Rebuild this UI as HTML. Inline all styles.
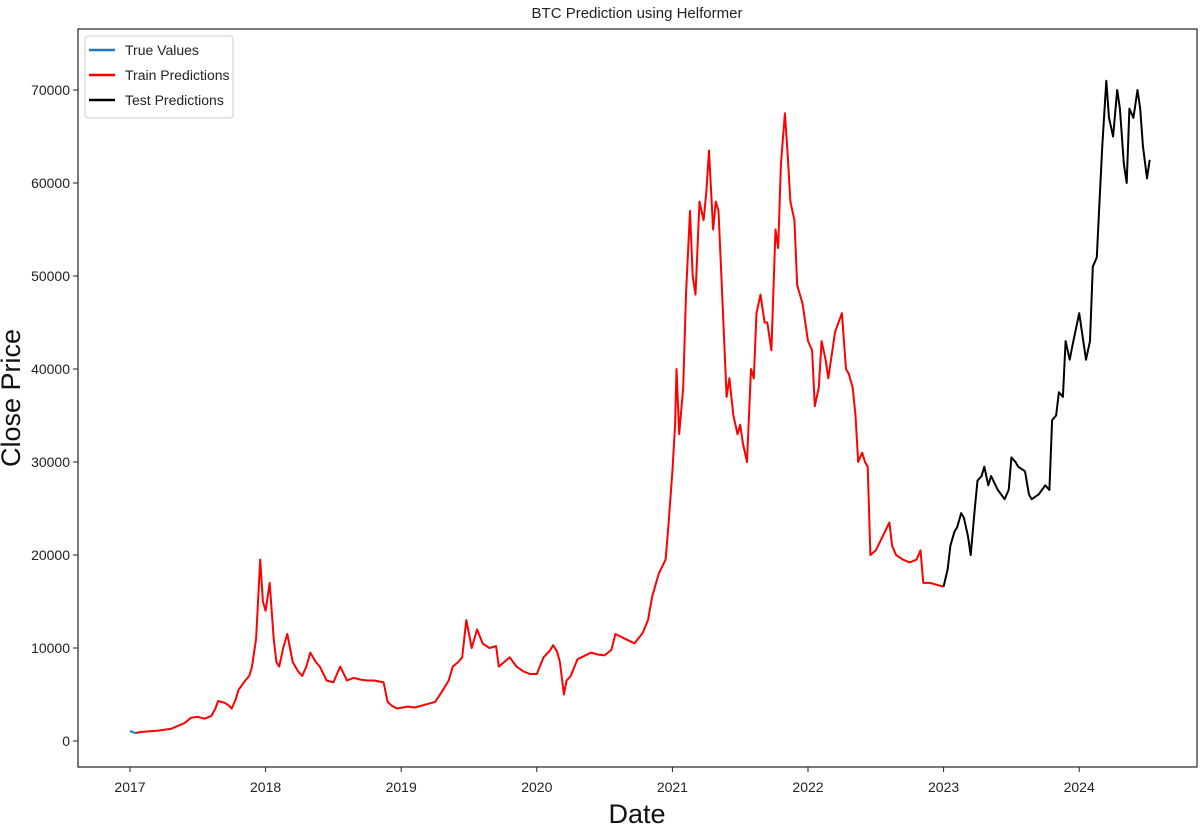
<!DOCTYPE html>
<html><head><meta charset="utf-8"><style>
body{margin:0;background:#fff;}
svg{display:block;font-family:"Liberation Sans","DejaVu Sans",sans-serif;}
</style></head><body>
<svg id="chart" width="1200" height="828"></svg>
<script>
const trueDates=[2017.0,2017.02,2017.04,2017.06];
const trueVals=[1100,950,850,900];
const trainDates=[2017.05,2017.1,2017.2,2017.3,2017.4,2017.45,2017.5,2017.55,2017.6,2017.63,2017.65,2017.7,2017.73,2017.75,2017.78,2017.8,2017.85,2017.88,2017.9,2017.93,2017.96,2017.98,2018.0,2018.03,2018.06,2018.08,2018.1,2018.13,2018.16,2018.2,2018.24,2018.27,2018.3,2018.33,2018.37,2018.4,2018.45,2018.5,2018.55,2018.6,2018.65,2018.7,2018.75,2018.8,2018.87,2018.9,2018.93,2018.97,2019.05,2019.1,2019.2,2019.25,2019.3,2019.35,2019.38,2019.42,2019.45,2019.48,2019.5,2019.52,2019.56,2019.6,2019.65,2019.7,2019.72,2019.76,2019.8,2019.85,2019.9,2019.95,2020.0,2020.05,2020.1,2020.12,2020.15,2020.17,2020.2,2020.22,2020.25,2020.3,2020.33,2020.4,2020.45,2020.5,2020.55,2020.58,2020.65,2020.72,2020.78,2020.82,2020.85,2020.88,2020.9,2020.95,2020.97,2021.0,2021.02,2021.03,2021.05,2021.08,2021.1,2021.13,2021.15,2021.17,2021.2,2021.23,2021.25,2021.27,2021.3,2021.32,2021.34,2021.37,2021.4,2021.42,2021.45,2021.48,2021.5,2021.52,2021.55,2021.58,2021.6,2021.62,2021.65,2021.68,2021.7,2021.73,2021.76,2021.78,2021.8,2021.83,2021.85,2021.87,2021.9,2021.92,2021.96,2022.0,2022.03,2022.05,2022.08,2022.1,2022.13,2022.15,2022.2,2022.25,2022.28,2022.3,2022.33,2022.35,2022.37,2022.4,2022.42,2022.44,2022.46,2022.5,2022.55,2022.6,2022.62,2022.65,2022.7,2022.75,2022.8,2022.83,2022.85,2022.9,2022.95,2023.0];
const trainVals=[900,1000,1100,1300,1900,2500,2600,2400,2700,3500,4300,4100,3800,3500,4500,5500,6500,7000,8000,11000,19500,15000,14000,17000,11000,8500,8000,10000,11500,8500,7500,7000,8000,9500,8500,8000,6500,6300,8000,6500,6800,6600,6500,6500,6300,4200,3800,3500,3700,3600,4000,4200,5300,6500,8000,8500,9000,13000,11500,10000,12000,10500,10000,10200,8000,8500,9000,8000,7500,7200,7200,9000,9800,10300,9600,8500,5000,6500,7000,8800,9000,9500,9300,9200,9800,11500,11000,10500,11600,13000,15500,17000,18000,19500,23000,29000,34000,40000,33000,38000,48000,57000,50000,48000,58000,56000,59000,63500,55000,58000,57000,47000,37000,39000,35000,33000,34000,32000,30000,40000,39000,46000,48000,45000,45000,42000,55000,53000,62000,67500,63000,58000,56000,49000,47000,43000,42000,36000,38000,43000,41000,39000,44000,46000,40000,39500,38000,35000,30000,31000,30000,29500,20000,20500,22000,23500,21000,20000,19500,19200,19500,20500,17000,17000,16800,16600];
const testDates=[2023.0,2023.03,2023.05,2023.08,2023.1,2023.13,2023.15,2023.18,2023.2,2023.23,2023.25,2023.28,2023.3,2023.33,2023.35,2023.4,2023.45,2023.48,2023.5,2023.53,2023.55,2023.6,2023.63,2023.65,2023.7,2023.75,2023.78,2023.8,2023.83,2023.85,2023.88,2023.9,2023.93,2023.95,2024.0,2024.03,2024.05,2024.08,2024.1,2024.13,2024.15,2024.17,2024.2,2024.22,2024.25,2024.28,2024.3,2024.33,2024.35,2024.37,2024.4,2024.43,2024.45,2024.47,2024.5,2024.52];
const testVals=[16600,18500,21000,22500,23000,24500,24000,22000,20000,25000,28000,28500,29500,27500,28500,27000,26000,27000,30500,30000,29500,29000,26500,26000,26500,27500,27000,34500,35000,37500,37000,43000,41000,42500,46000,43000,41000,43000,51000,52000,58000,64000,71000,67000,65000,70000,68000,62000,60000,68000,67000,70000,68000,64000,60500,62500];
const yTicks=[0,10000,20000,30000,40000,50000,60000,70000];
const xTicks=[2017,2018,2019,2020,2021,2022,2023,2024];

const NS="http://www.w3.org/2000/svg";
const svg=document.getElementById('chart');
const L=78,R=1197,T=29,B=767;
function xs(d){return 130+(d-2017)*135.6;}
function ys(v){return 741-v*0.0093;}
function mk(tag,attrs,parent){const e=document.createElementNS(NS,tag);for(const k in attrs)e.setAttribute(k,attrs[k]);(parent||svg).appendChild(e);return e;}

const title=mk('text',{x:637,y:18,'text-anchor':'middle','font-size':15,fill:'#222'});
title.textContent='BTC Prediction using Helformer';



yTicks.forEach(v=>{
 const y=ys(v);
 const t=mk('line',{x1:L-5,x2:L,y1:y,y2:y,stroke:'#222','stroke-width':1});
 
 
 const lb=mk('text',{x:L-8,y:y+5,'text-anchor':'end','font-size':14,fill:'#222'});
 lb.textContent=v;
 
 
});
xTicks.forEach(d=>{
 const x=xs(d);
 const t=mk('line',{x1:x,x2:x,y1:B,y2:B+5,stroke:'#222','stroke-width':1});
 
 
 const lb=mk('text',{x:x,y:B+25,'text-anchor':'middle','font-size':14,fill:'#222'});
 lb.textContent=d;
 
 
});

function series(dates,vals,color,name){
 const p=mk('polyline',{points:dates.map((d,i)=>xs(d).toFixed(1)+','+ys(vals[i]).toFixed(1)).join(' '),fill:'none',stroke:color,'stroke-width':2,'stroke-linejoin':'round'});
 
 
}
series(trueDates,trueVals,'#1f77b4','true-values-line');
series(trainDates,trainVals,'#ff0000','train-predictions-line');
series(testDates,testVals,'#000000','test-predictions-line');

const frame=mk('rect',{x:L,y:T,width:R-L,height:B-T,fill:'none',stroke:'#222','stroke-width':1.2});



const xl=mk('text',{x:637,y:823,'text-anchor':'middle','font-size':27,fill:'#111'});
xl.textContent='Date';


const yl=mk('text',{x:0,y:0,'text-anchor':'middle','font-size':27,fill:'#111',transform:'translate(20,398) rotate(-90)'});
yl.textContent='Close Price';



const lg=mk('rect',{x:85,y:36,width:148,height:82,rx:3,fill:'#fff',stroke:'#ccc','stroke-width':1});


[['True Values','#1f77b4'],['Train Predictions','#ff0000'],['Test Predictions','#000']].forEach((e,i)=>{
 const y=50+i*25;
 const ln=mk('line',{x1:89,x2:115,y1:y,y2:y,stroke:e[1],'stroke-width':2.5});
 
 
 const tx=mk('text',{x:125,y:y+5,'font-size':14,fill:'#222'});
 tx.textContent=e[0];
 
 
});
</script>
</body></html>
